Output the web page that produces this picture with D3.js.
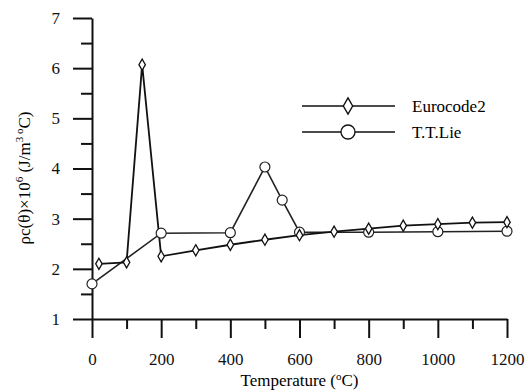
<!DOCTYPE html>
<html>
<head>
<meta charset="utf-8">
<script src="https://cdn.jsdelivr.net/npm/d3@7"></script>
<style>
  body { margin: 0; background: #fff; }
  svg { display: block; }
  text { font-family: "Liberation Serif", "DejaVu Serif", "Times New Roman", Times, serif; }
  .axis path, .axis line { stroke: #111; stroke-width: 2; }
  .axis text { font-family: "Liberation Serif", "DejaVu Serif", "Times New Roman", Times, serif; font-size: 17px; fill: #111; }
</style>
</head>
<body>
<script>
// Eurocode2 curve (diamonds)
const euroTemp = [20, 100, 145, 200, 300, 400, 500, 600, 700, 800, 900, 1000, 1100, 1200];
const euroVal = [2.1, 2.13, 6.07, 2.25, 2.37, 2.48, 2.58, 2.67, 2.74, 2.8, 2.86, 2.89, 2.92, 2.93];

// T.T.Lie curve (circles)
const lieTemp = [0, 200, 400, 500, 550, 600, 800, 1000, 1200];
const lieVal = [1.7, 2.71, 2.72, 4.03, 3.37, 2.73, 2.73, 2.74, 2.75];

const xMajor = [0, 200, 400, 600, 800, 1000, 1200];
const xMinor = [100, 300, 500, 700, 900, 1100];
const yMajor = [1, 2, 3, 4, 5, 6, 7];
const yMinor = [1.5, 2.5, 3.5, 4.5, 5.5, 6.5];

const width = 528, height = 392;
const serif = '"Liberation Serif", "DejaVu Serif", "Times New Roman", Times, serif';

const svg = d3.select('body').append('svg')
  .attr('width', width)
  .attr('height', height);

const x = d3.scaleLinear().domain([0, 1200]).range([92, 507]);
const y = d3.scaleLinear().domain([1, 7]).range([319, 18]);

// x axis: ticks pointing down
svg.append('g')
  .attr('class', 'axis')
  .attr('transform', `translate(0,${y(1)})`)
  .call(d3.axisBottom(x).tickValues(xMinor).tickSize(10).tickFormat(''))
  .call(g => g.select('.domain').remove());

svg.append('g')
  .attr('class', 'axis')
  .attr('font-family', serif)
  .attr('transform', `translate(0,${y(1)})`)
  .call(d3.axisBottom(x).tickValues(xMajor).tickSize(19).tickSizeOuter(0).tickPadding(6).tickFormat(d3.format('d')))
  .call(g => g.selectAll('text').attr('dy', '1.25em'));

// y axis: ticks pointing left
svg.append('g')
  .attr('class', 'axis')
  .attr('transform', `translate(${x(0)},0)`)
  .call(d3.axisLeft(y).tickValues(yMinor).tickSize(11).tickFormat(''))
  .call(g => g.select('.domain').remove());

svg.append('g')
  .attr('class', 'axis')
  .attr('font-family', serif)
  .attr('transform', `translate(${x(0)},0)`)
  .call(d3.axisLeft(y).tickValues(yMajor).tickSize(19).tickSizeOuter(0).tickPadding(13).tickFormat(d3.format('d')));

// axis titles
svg.append('text')
  .attr('x', (x(0) + x(1200)) / 2)
  .attr('y', 386)
  .attr('text-anchor', 'middle')
  .style('font-family', serif)
  .style('font-size', '17px')
  .html('Temperature (<tspan dy="-6" font-size="11">o</tspan><tspan dy="6">C)</tspan>');

svg.append('text')
  .attr('transform', 'translate(30,178) rotate(-90)')
  .attr('text-anchor', 'middle')
  .style('font-family', serif)
  .style('font-size', '17px')
  .html('ρc(θ)×10<tspan dy="-7" font-size="11">6</tspan><tspan dy="7"> (J/m</tspan><tspan dy="-7" font-size="11">3 o</tspan><tspan dy="7">C)</tspan>');

const euro = euroTemp.map((t, i) => ({ t, v: euroVal[i] }));
const lie = lieTemp.map((t, i) => ({ t, v: lieVal[i] }));

const line = d3.line().x(d => x(d.t)).y(d => y(d.v));

svg.append('path')
  .datum(lie)
  .attr('d', line)
  .attr('fill', 'none')
  .attr('stroke', '#222')
  .attr('stroke-width', 1.6);

svg.append('path')
  .datum(euro)
  .attr('d', line)
  .attr('fill', 'none')
  .attr('stroke', '#111')
  .attr('stroke-width', 1.8);

const diamond = d3.symbol().type(d3.symbolDiamond).size(36);

svg.append('g')
  .selectAll('circle')
  .data(lie)
  .enter().append('circle')
  .attr('cx', d => x(d.t))
  .attr('cy', d => y(d.v))
  .attr('r', 5)
  .attr('fill', '#fff')
  .attr('stroke', '#222')
  .attr('stroke-width', 1.2);

svg.append('g')
  .selectAll('path')
  .data(euro)
  .enter().append('path')
  .attr('d', diamond)
  .attr('transform', d => `translate(${x(d.t)},${y(d.v)})`)
  .attr('fill', '#fff')
  .attr('stroke', '#111')
  .attr('stroke-width', 1.3);

// legend
const legend = svg.append('g').attr('transform', 'translate(302,106)');
const legendItems = ['Eurocode2', 'T.T.Lie'];

legendItems.forEach((name, i) => {
  const g = legend.append('g').attr('transform', `translate(0,${i * 26})`);
  g.append('line')
    .attr('x1', 0).attr('x2', 93)
    .attr('stroke', '#111')
    .attr('stroke-width', 1.6);
  if (i === 0) {
    g.append('path')
      .attr('d', d3.symbol().type(d3.symbolDiamond).size(75))
      .attr('transform', 'translate(46,0)')
      .attr('fill', '#fff')
      .attr('stroke', '#111')
      .attr('stroke-width', 1.4);
  } else {
    g.append('circle')
      .attr('cx', 46).attr('r', 7)
      .attr('fill', '#fff')
      .attr('stroke', '#111')
      .attr('stroke-width', 1.3);
  }
  g.append('text')
    .attr('x', 110)
    .attr('y', 6)
    .style('font-family', serif)
    .style('font-size', '17px')
    .text(name);
});
</script>
</body>
</html>
